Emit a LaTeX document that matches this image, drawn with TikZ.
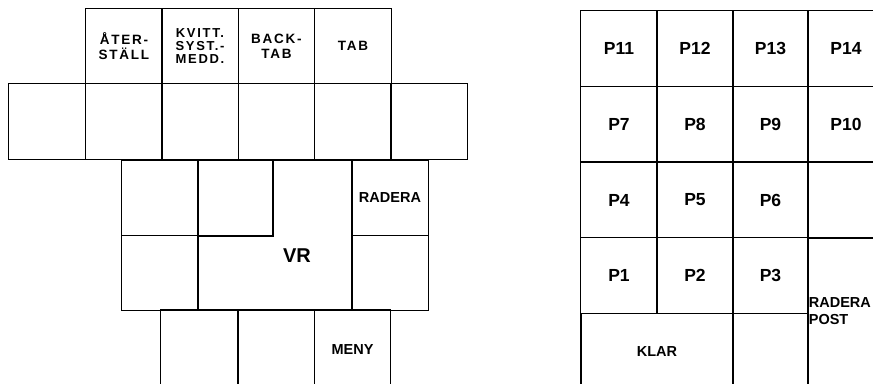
\documentclass[tikz,border=0pt]{standalone}
\usepackage{fontspec}
\newfontfamily\keyfont{Liberation Sans}
\newfontfamily\keywide[LetterSpace=13]{Liberation Sans}
\usetikzlibrary{positioning}
\tikzset{
	key/.style={
		draw,
		rectangle,
		line width=1.2pt,
		inner sep=0pt,
		minimum width=76.5pt,
		minimum height=75.5pt,
		align=center,
		font=\keywide\bfseries\fontsize{13.5}{15}\selectfont
	},
	midtext/.style={font=\keyfont\bfseries\fontsize{14.5}{16.5}\selectfont},
	ptext/.style={font=\keyfont\bfseries\fontsize{17.5}{20}\selectfont},
	wall/.style={line width=1.2pt}
}

\begin{document}
\begin{tikzpicture}[x=1pt, y=-1pt]
		\useasboundingbox (0,0) rectangle (873,383);
		\clip (0,0) rectangle (873,383);
		% left keypad, top row
		\node[key] (ater) at (124,46) {ÅTER-\\STÄLL};
		\node[key, font=\keywide\bfseries\fontsize{13}{13}\selectfont] (kvitt) at (200,46) {KVITT.\\SYST.-\\MEDD.};
		\node[key] (backtab) at (276.5,46) {BACK-\\TAB};
		\node[key] (tab) at (353,46) {TAB};
		% second row
		\foreach \cx [count=\i] in {47,124,200,276.5,353,429}
			\node[key] (fk\i) at (\cx,121.5) {};
		% middle rows
		\node[key] (lt1) at (160,198) {};
		\node[key] (lt2) at (235.5,198) {};
		\node[key, midtext] (radera) at (390,198) {RADERA};
		\node[key] (lt3) at (160,273) {};
		\node[key] (rt4) at (390,273) {};
		\draw[wall] (273,160) -- (352,160) -- (352,310) -- (198,310) -- (198,236) -- (273,236) -- cycle;
		\node[font=\keyfont\bfseries\fontsize{20}{22}\selectfont] (vr) at (297,256) {VR};
		% bottom row
		\node[key, minimum height=80pt] (bt1) at (199,350) {};
		\node[key, minimum height=80pt] (bt2) at (276.5,350) {};
		\node[key, midtext, minimum height=80pt] (meny) at (352.5,350) {MENY};
		% right keypad
		\foreach \lab/\cx in {P11/619,P12/695,P13/770.5,P14/846}
			\node[key, ptext] (\lab) at (\cx,48.5) {\lab};
		\foreach \lab/\cx in {P7/619,P8/695,P9/770.5,P10/846}
			\node[key, ptext] (\lab) at (\cx,124) {\lab};
		\foreach \lab/\cx in {P4/619,P5/695,P6/770.5}
			\node[key, ptext] (\lab) at (\cx,200) {\lab};
		\node[key] (pe1) at (846,200) {};
		\foreach \lab/\cx in {P1/619,P2/695,P3/770.5}
			\node[key, ptext] (\lab) at (\cx,275.5) {\lab};
		\node[key, minimum height=152pt] (radpost) at (846,314) {};
		\node[midtext, anchor=west, align=left, inner sep=0pt] (radtext) at ([xshift=1.5pt, yshift=3pt]radpost.west) {RADERA\\POST};
		\node[key, midtext, minimum width=152pt, minimum height=76pt] (klar) at (657,351.5) {KLAR};
		\node[key, minimum height=76pt] (pe2) at (770.5,351.5) {};
	\end{tikzpicture}
\end{document}
